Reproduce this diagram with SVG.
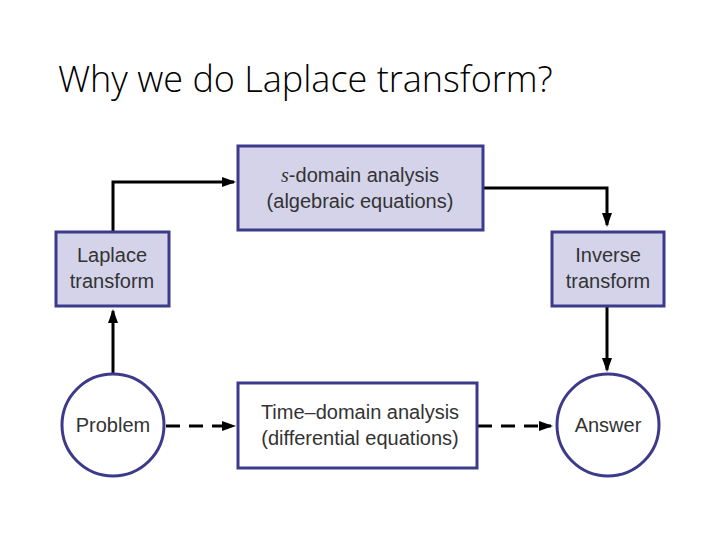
<svg xmlns="http://www.w3.org/2000/svg" width="720" height="540" viewBox="0 0 720 540">
<style>
.box{fill:#d4d3ea;stroke:#3c3a8a;stroke-width:3}
.circ{fill:#fff;stroke:#3c3a8a;stroke-width:3}
.t{font-family:"Liberation Sans",Arial,sans-serif;font-size:20px;fill:#333;text-anchor:middle}
.c{fill:none;stroke:#000;stroke-width:3}
.d{stroke-dasharray:14,9}
</style>
<defs><marker id="a" viewBox="0 0 14 10" refX="12" refY="5" markerWidth="14" markerHeight="10" orient="auto" markerUnits="userSpaceOnUse"><path d="M0,0L14,5L0,10z" fill="#000"/></marker></defs>
<rect width="720" height="540" fill="#fff"/>
<text x="58" y="92" font-family="'Open Sans',sans-serif" font-weight="300" font-size="36" fill="#000">Why we do Laplace transform?</text>
<g id="connectors">
<path class="c" d="M113,231V182H234" marker-end="url(#a)"/>
<path class="c" d="M484,188H607V225" marker-end="url(#a)"/>
<path class="c" d="M607,307V370" marker-end="url(#a)"/>
<path class="c" d="M113,374V311" marker-end="url(#a)"/>
<path class="c d" d="M166,426H234" marker-end="url(#a)"/>
<path class="c d" d="M478,426H551" marker-end="url(#a)"/>
</g>
<g id="s"><rect class="box" x="238" y="146" width="245" height="84"/><text class="t" x="360" y="182"><tspan font-family="'Liberation Serif',serif" font-style="italic">s</tspan>-domain analysis</text><text class="t" x="360" y="208">(algebraic equations)</text></g>
<g id="lap"><rect class="box" x="56" y="232" width="113" height="74"/><text class="t" x="112" y="262">Laplace</text><text class="t" x="112" y="288">transform</text></g>
<g id="inv"><rect class="box" x="552" y="232" width="112" height="74"/><text class="t" x="608" y="262">Inverse</text><text class="t" x="608" y="288">transform</text></g>
<g id="prob"><circle class="circ" cx="113" cy="425" r="51"/><text class="t" x="113" y="432">Problem</text></g>
<g id="time"><rect class="box" x="238" y="383" width="239" height="85" style="fill:#fff"/><text class="t" x="360" y="419">Time–domain analysis</text><text class="t" x="360" y="445">(differential equations)</text></g>
<g id="ans"><circle class="circ" cx="608" cy="425" r="51"/><text class="t" x="608" y="432">Answer</text></g>
</svg>
